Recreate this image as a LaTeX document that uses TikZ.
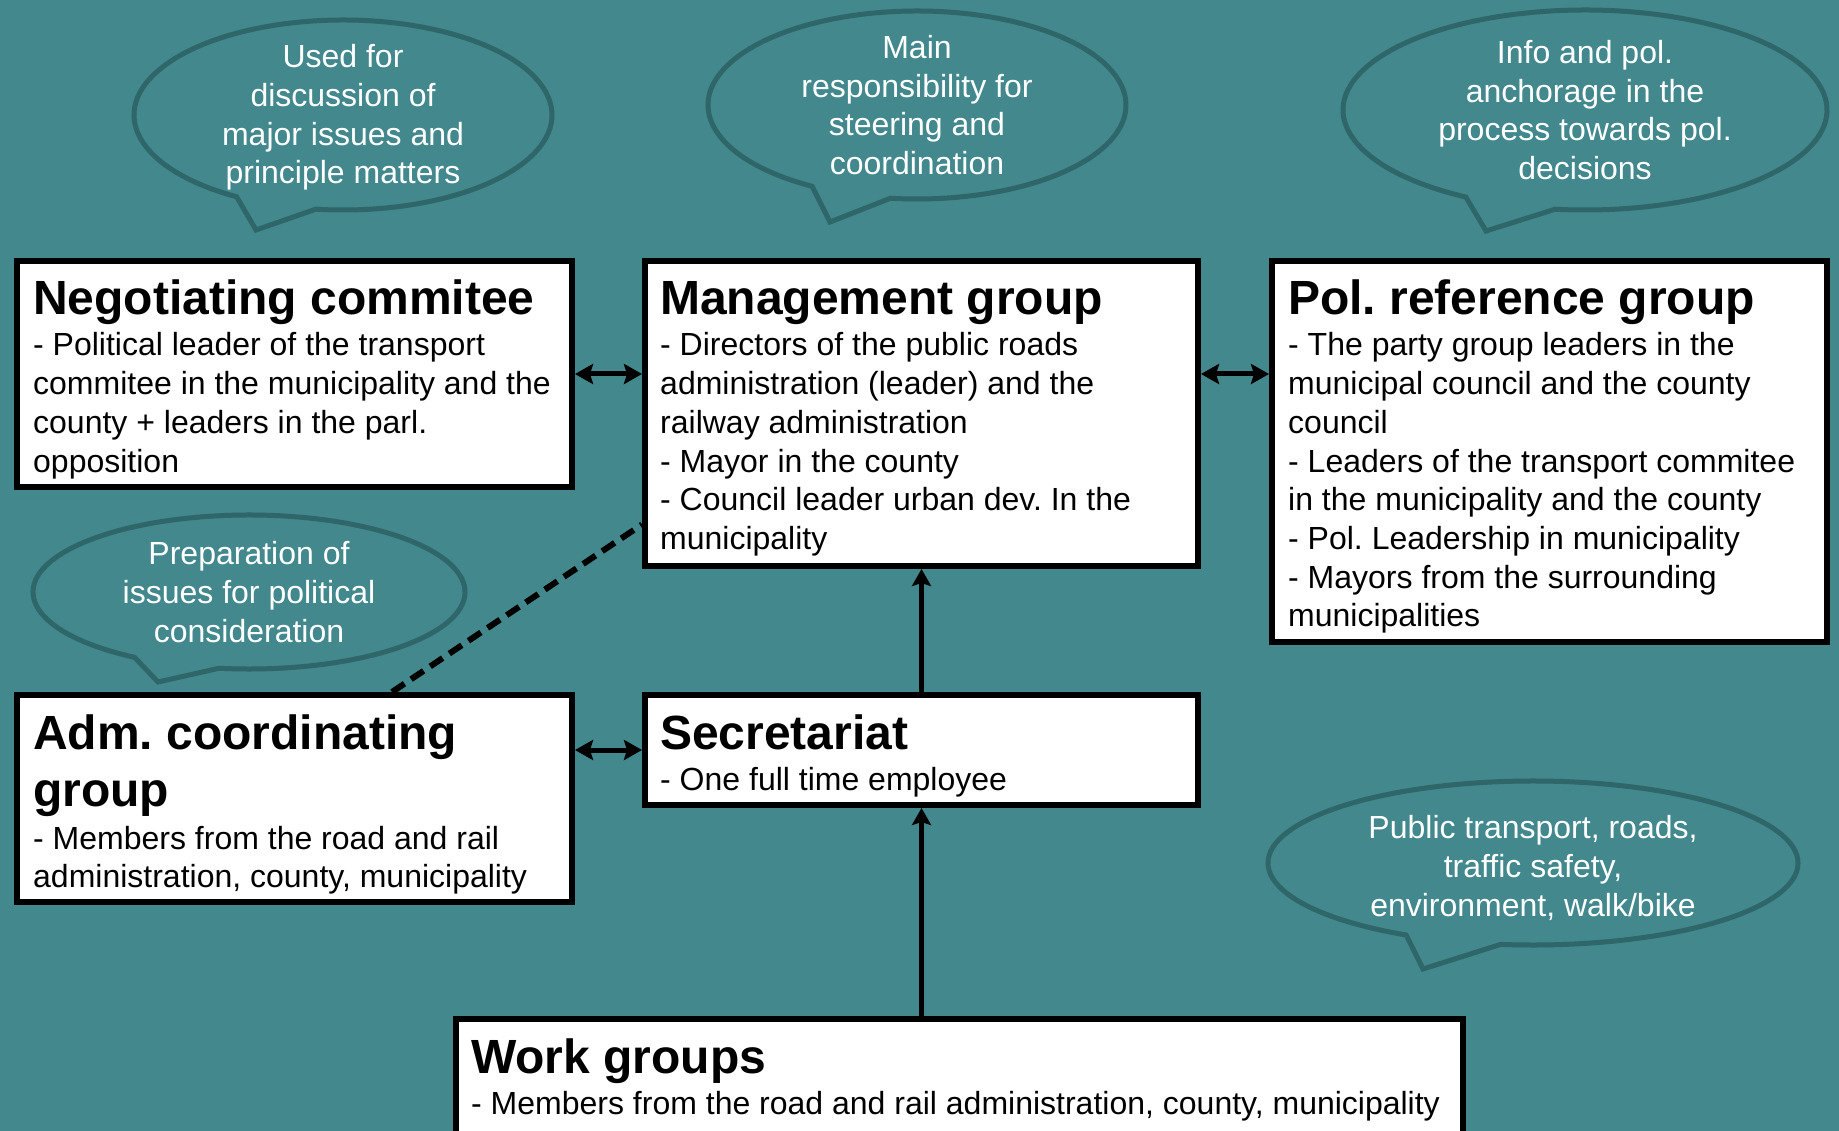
\documentclass[tikz,border=0pt]{standalone}
\usepackage{fontspec}
\setmainfont{Liberation Sans}
\frenchspacing
\usetikzlibrary{arrows.meta,calc}
\definecolor{bg}{RGB}{66,136,141}
\definecolor{bubline}{RGB}{46,102,106}
\begin{document}
\frenchspacing
\begin{tikzpicture}[x=1pt,y=-1pt,
  box/.style={draw=black, line width=6pt, fill=white, rectangle, inner sep=0pt, outer sep=3pt, anchor=north west},
  ttl/.style={anchor=base west, inner sep=0pt, font=\fontsize{48}{57.6}\selectfont\bfseries},
  bdy/.style={anchor=base west, inner sep=0pt, font=\fontsize{32}{38.7}\selectfont},
  bub/.style={draw=bubline, line width=5pt, fill=bg, line join=miter},
  btxt/.style={align=center, text=white, inner sep=0pt, font=\fontsize{32}{38.7}\selectfont},
  arr/.style={line width=5pt, {Stealth[length=18pt,width=20pt,inset=3pt]}-{Stealth[length=18pt,width=20pt,inset=3pt]}},
  uparr/.style={line width=5.5pt, -{Stealth[length=17pt,width=19pt,inset=3pt]}},
  dline/.style={line width=6pt, dash pattern=on 15pt off 8pt}]
\useasboundingbox (0,0) rectangle (1839,1131);
\fill[bg] (0,0) rectangle (1839,1131);

% speech bubbles
\draw[bub] (343,115) ++(120.6:209 and 95) arc[start angle=120.6, end angle=457.5, x radius=209, y radius=95] -- (256,230) -- cycle;
\node[btxt] (b1t) at (343,117.5) {Used for\\discussion of\\major issues and\\principle matters};
\draw[bub] (917,105) ++(120.1:209 and 94) arc[start angle=120.1, end angle=457.3, x radius=209, y radius=94] -- (830,222) -- cycle;
\node[btxt] (b2t) at (917,105) {Main\\responsibility for\\steering and\\coordination};
\draw[bub] (1585,110) ++(119.5:242 and 100) arc[start angle=119.5, end angle=457.1, x radius=242, y radius=100] -- (1486,231) -- cycle;
\node[btxt] (b3t) at (1585,110) {Info and pol.\\anchorage in the\\process towards pol.\\decisions};
\draw[bub] (249,592) ++(122:216 and 77) arc[start angle=122, end angle=458, x radius=216, y radius=77] -- (158,682) -- cycle;
\node[btxt] (b4t) at (249,592) {Preparation of\\issues for political\\consideration};
\draw[bub] (1533,863) ++(118.6:265 and 82) arc[start angle=118.6, end angle=457, x radius=265, y radius=82] -- (1423,969) -- cycle;
\node[btxt] (b5t) at (1533,868) {Public transport, roads,\\traffic safety,\\environment, walk/bike};

% boxes
\node[box, minimum width=555pt, minimum height=226pt] (neg) at (14,258) {};
\node[box, minimum width=553pt, minimum height=305pt] (mgmt) at (642,258) {};
\node[box, minimum width=555pt, minimum height=381pt] (pol) at (1269,258) {};
\node[box, minimum width=555pt, minimum height=207pt] (adm) at (14,692) {};
\node[box, minimum width=553pt, minimum height=110pt] (sec) at (642,692) {};
\node[box, minimum width=1007pt, minimum height=125pt] (work) at (453,1016) {};

% box texts
\node[ttl] (negT) at (33,315) {Negotiating commitee};
\node[bdy] (negB) at (33,356) {\parbox[t]{540pt}{\raggedright
- Political leader of the transport\\
commitee in the municipality and the\\
county + leaders in the parl.\\
opposition}};

\node[ttl] (mgmtT) at (660,315) {Management group};
\node[bdy] (mgmtB) at (660,356) {\parbox[t]{540pt}{\raggedright
- Directors of the public roads\\
administration (leader) and the\\
railway administration\\
- Mayor in the county\\
- Council leader urban dev. In the\\
municipality}};

\node[ttl] (polT) at (1288,315) {Pol. reference group};
\node[bdy] (polB) at (1288,356) {\parbox[t]{540pt}{\raggedright
- The party group leaders in the\\
municipal council and the county\\
council\\
- Leaders of the transport commitee\\
in the municipality and the county\\
- Pol. Leadership in municipality\\
- Mayors from the surrounding\\
municipalities}};

\node[ttl] (admT) at (33,749) {\parbox[t]{540pt}{\raggedright Adm. coordinating\\group}};
\node[bdy] (admB) at (33,849) {\parbox[t]{540pt}{\raggedright
- Members from the road and rail\\
administration, county, municipality}};

\node[ttl] (secT) at (660,749) {Secretariat};
\node[bdy] (secB) at (660,790) {- One full time employee};

\node[ttl] (workT) at (471,1073) {Work groups};
\node[bdy] (workB) at (471,1114) {- Members from the road and rail administration, county, municipality};

% connectors
\draw[arr] (neg.east) -- (neg.east -| mgmt.west);
\draw[arr] (mgmt.east |- neg.east) -- (pol.west |- neg.east);
\draw[arr] (sec.west -| adm.east) -- (sec.west);
\draw[uparr] (sec.north) -- (mgmt.south);
\draw[uparr] (work.north -| sec.south) -- (sec.south);
\draw[dline] ([xshift=378pt]adm.north west) -- ([yshift=-111pt]mgmt.west);
\end{tikzpicture}
\end{document}
